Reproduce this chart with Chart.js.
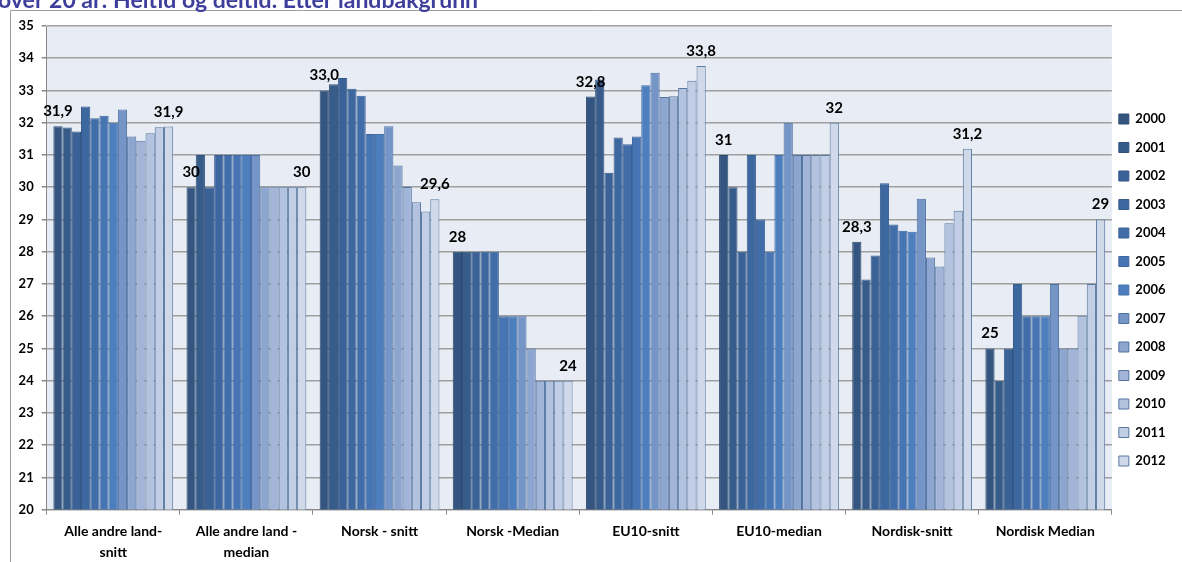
<!DOCTYPE html>
<html>
<head>
<meta charset="utf-8">
<script src="https://cdn.jsdelivr.net/npm/chart.js@4/dist/chart.umd.min.js"></script>
<style>
  html, body { margin: 0; padding: 0; background: #fff; }
  #wrap { position: relative; width: 1182px; height: 562px; }
</style>
</head>
<body>
<div id="wrap"><canvas id="chart" width="1182" height="562"></canvas></div>
<script>
// data
const categories = [
  ['Alle andre land-', 'snitt'],
  ['Alle andre land -', 'median'],
  'Norsk - snitt',
  'Norsk -Median',
  'EU10-snitt',
  'EU10-median',
  'Nordisk-snitt',
  'Nordisk Median'
];
const years = ['2000', '2001', '2002', '2003', '2004', '2005', '2006', '2007', '2008', '2009', '2010', '2011', '2012'];

// one array per category, 2000..2012
const alleSnitt    = [31.89, 31.85, 31.73, 32.50, 32.14, 32.22, 32.00, 32.41, 31.57, 31.44, 31.67, 31.86, 31.88];
const alleMedian   = [30, 31, 30, 31, 31, 31, 31, 31, 30, 30, 30, 30, 30];
const norskSnitt   = [33.00, 33.19, 33.39, 33.05, 32.84, 31.65, 31.65, 31.89, 30.67, 30.01, 29.53, 29.25, 29.63];
const norskMedian  = [28, 28, 28, 28, 28, 26, 26, 26, 25, 24, 24, 24, 24];
const eu10Snitt    = [32.81, 33.34, 30.45, 31.54, 31.33, 31.57, 33.16, 33.55, 32.80, 32.82, 33.08, 33.30, 33.76];
const eu10Median   = [31, 30, 28, 31, 29, 28, 31, 32, 31, 31, 31, 31, 32];
const nordiskSnitt = [28.31, 27.14, 27.88, 30.12, 28.84, 28.65, 28.62, 29.64, 27.82, 27.54, 28.88, 29.27, 31.19];
const nordiskMedian= [25, 24, 25, 27, 26, 26, 26, 27, 25, 25, 26, 27, 29];

const byCategory = [alleSnitt, alleMedian, norskSnitt, norskMedian, eu10Snitt, eu10Median, nordiskSnitt, nordiskMedian];
const labelDecimals = [1, 0, 1, 0, 1, 0, 1, 0];
const yTicks = { min: 20, max: 35, step: 1 };

const fills = ['#34557F', '#375C8A', '#3A6296', '#3D679F', '#416DA8', '#4775B3', '#4D7EBE',
               '#7595C7', '#8DA6D0', '#A2B5D8', '#B3C2DF', '#C2CEE5', '#D0D9EA'];
const borders = ['#2E4C72', '#30517C', '#335786', '#365C8E', '#3A6296', '#3F68A0', '#4470AA',
                 '#4E6FA2', '#51729F', '#53749F', '#55769F', '#57789F', '#5A7BA2'];

const FONT = 'Lato, "Open Sans", sans-serif';

const datasets = years.map((y, i) => ({
  label: y,
  data: byCategory.map(c => c[i]),
  backgroundColor: fills[i],
  borderColor: borders[i],
  borderWidth: 1,
  barPercentage: 1,
  categoryPercentage: 0.9
}));

// frame, plot background and title
const decor = {
  id: 'decor',
  beforeDraw(chart) {
    const ctx = chart.ctx, a = chart.chartArea;
    ctx.save();
    ctx.strokeStyle = '#9c9c9c';
    ctx.lineWidth = 1;
    ctx.beginPath();
    ctx.moveTo(10.5, chart.height);
    ctx.lineTo(10.5, 10.5);
    ctx.lineTo(chart.width, 10.5);
    ctx.stroke();
    ctx.fillStyle = '#E8ECF4';
    ctx.fillRect(a.left, a.top, a.right - a.left, a.bottom - a.top);
    ctx.font = 'bold 23px ' + FONT;
    ctx.fillStyle = '#3E3E9C';
    ctx.textBaseline = 'alphabetic';
    ctx.fillText('over 20 år: Heltid og deltid. Etter landbakgrunn', -2, 8);
    ctx.restore();
  }
};

// value labels on first and last year
const valueLabels = {
  id: 'valueLabels',
  afterDatasetsDraw(chart) {
    const ctx = chart.ctx;
    ctx.save();
    ctx.font = 'bold 15px ' + FONT;
    ctx.fillStyle = '#000';
    ctx.textAlign = 'center';
    ctx.textBaseline = 'alphabetic';
    [0, years.length - 1].forEach(di => {
      const meta = chart.getDatasetMeta(di);
      meta.data.forEach((bar, ci) => {
        const v = chart.data.datasets[di].data[ci];
        const txt = v.toFixed(labelDecimals[ci]).replace('.', ',');
        ctx.fillText(txt, bar.x, bar.y - 10);
      });
    });
    ctx.restore();
  }
};

// move the legend a bit closer to the plot
const legendShift = {
  id: 'legendShift',
  afterLayout(chart) {
    const lg = chart.legend;
    const pad = lg.options.labels.padding;
    const dx = chart.chartArea.right + 7 - pad - lg.left;
    lg.left += dx; lg.right += dx;
    lg.top -= 4; lg.bottom -= 4;
  }
};

new Chart(document.getElementById('chart'), {
  type: 'bar',
  data: { labels: categories, datasets: datasets },
  plugins: [decor, valueLabels, legendShift],
  options: {
    responsive: false,
    animation: false,
    layout: { padding: { top: 26, right: -2, bottom: 0, left: 0 } },
    plugins: {
      legend: {
        position: 'right',
        labels: {
          boxWidth: 10,
          boxHeight: 10,
          padding: 15.5,
          color: '#000',
          font: { family: FONT, size: 13, weight: 'bold' }
        }
      },
      tooltip: { enabled: false }
    },
    scales: {
      x: {
        grid: { offset: true, drawOnChartArea: false, tickLength: 5, color: '#888' },
        border: { color: '#888' },
        ticks: {
          color: '#000',
          padding: 7,
          maxRotation: 0,
          font: { family: FONT, size: 14, weight: 'bold', lineHeight: 1.45 }
        },
        afterFit(s) { s.height = 52.4; }
      },
      y: {
        min: yTicks.min,
        max: yTicks.max,
        ticks: {
          stepSize: yTicks.step,
          color: '#000',
          padding: 8,
          font: { family: FONT, size: 13, weight: 'bold' }
        },
        grid: { color: '#9f9f9f', lineWidth: 1.5, tickLength: 5, tickColor: '#888' },
        border: { color: '#888' },
        afterFit(s) { s.width = 46.7; }
      }
    }
  }
});
</script>
</body>
</html>
